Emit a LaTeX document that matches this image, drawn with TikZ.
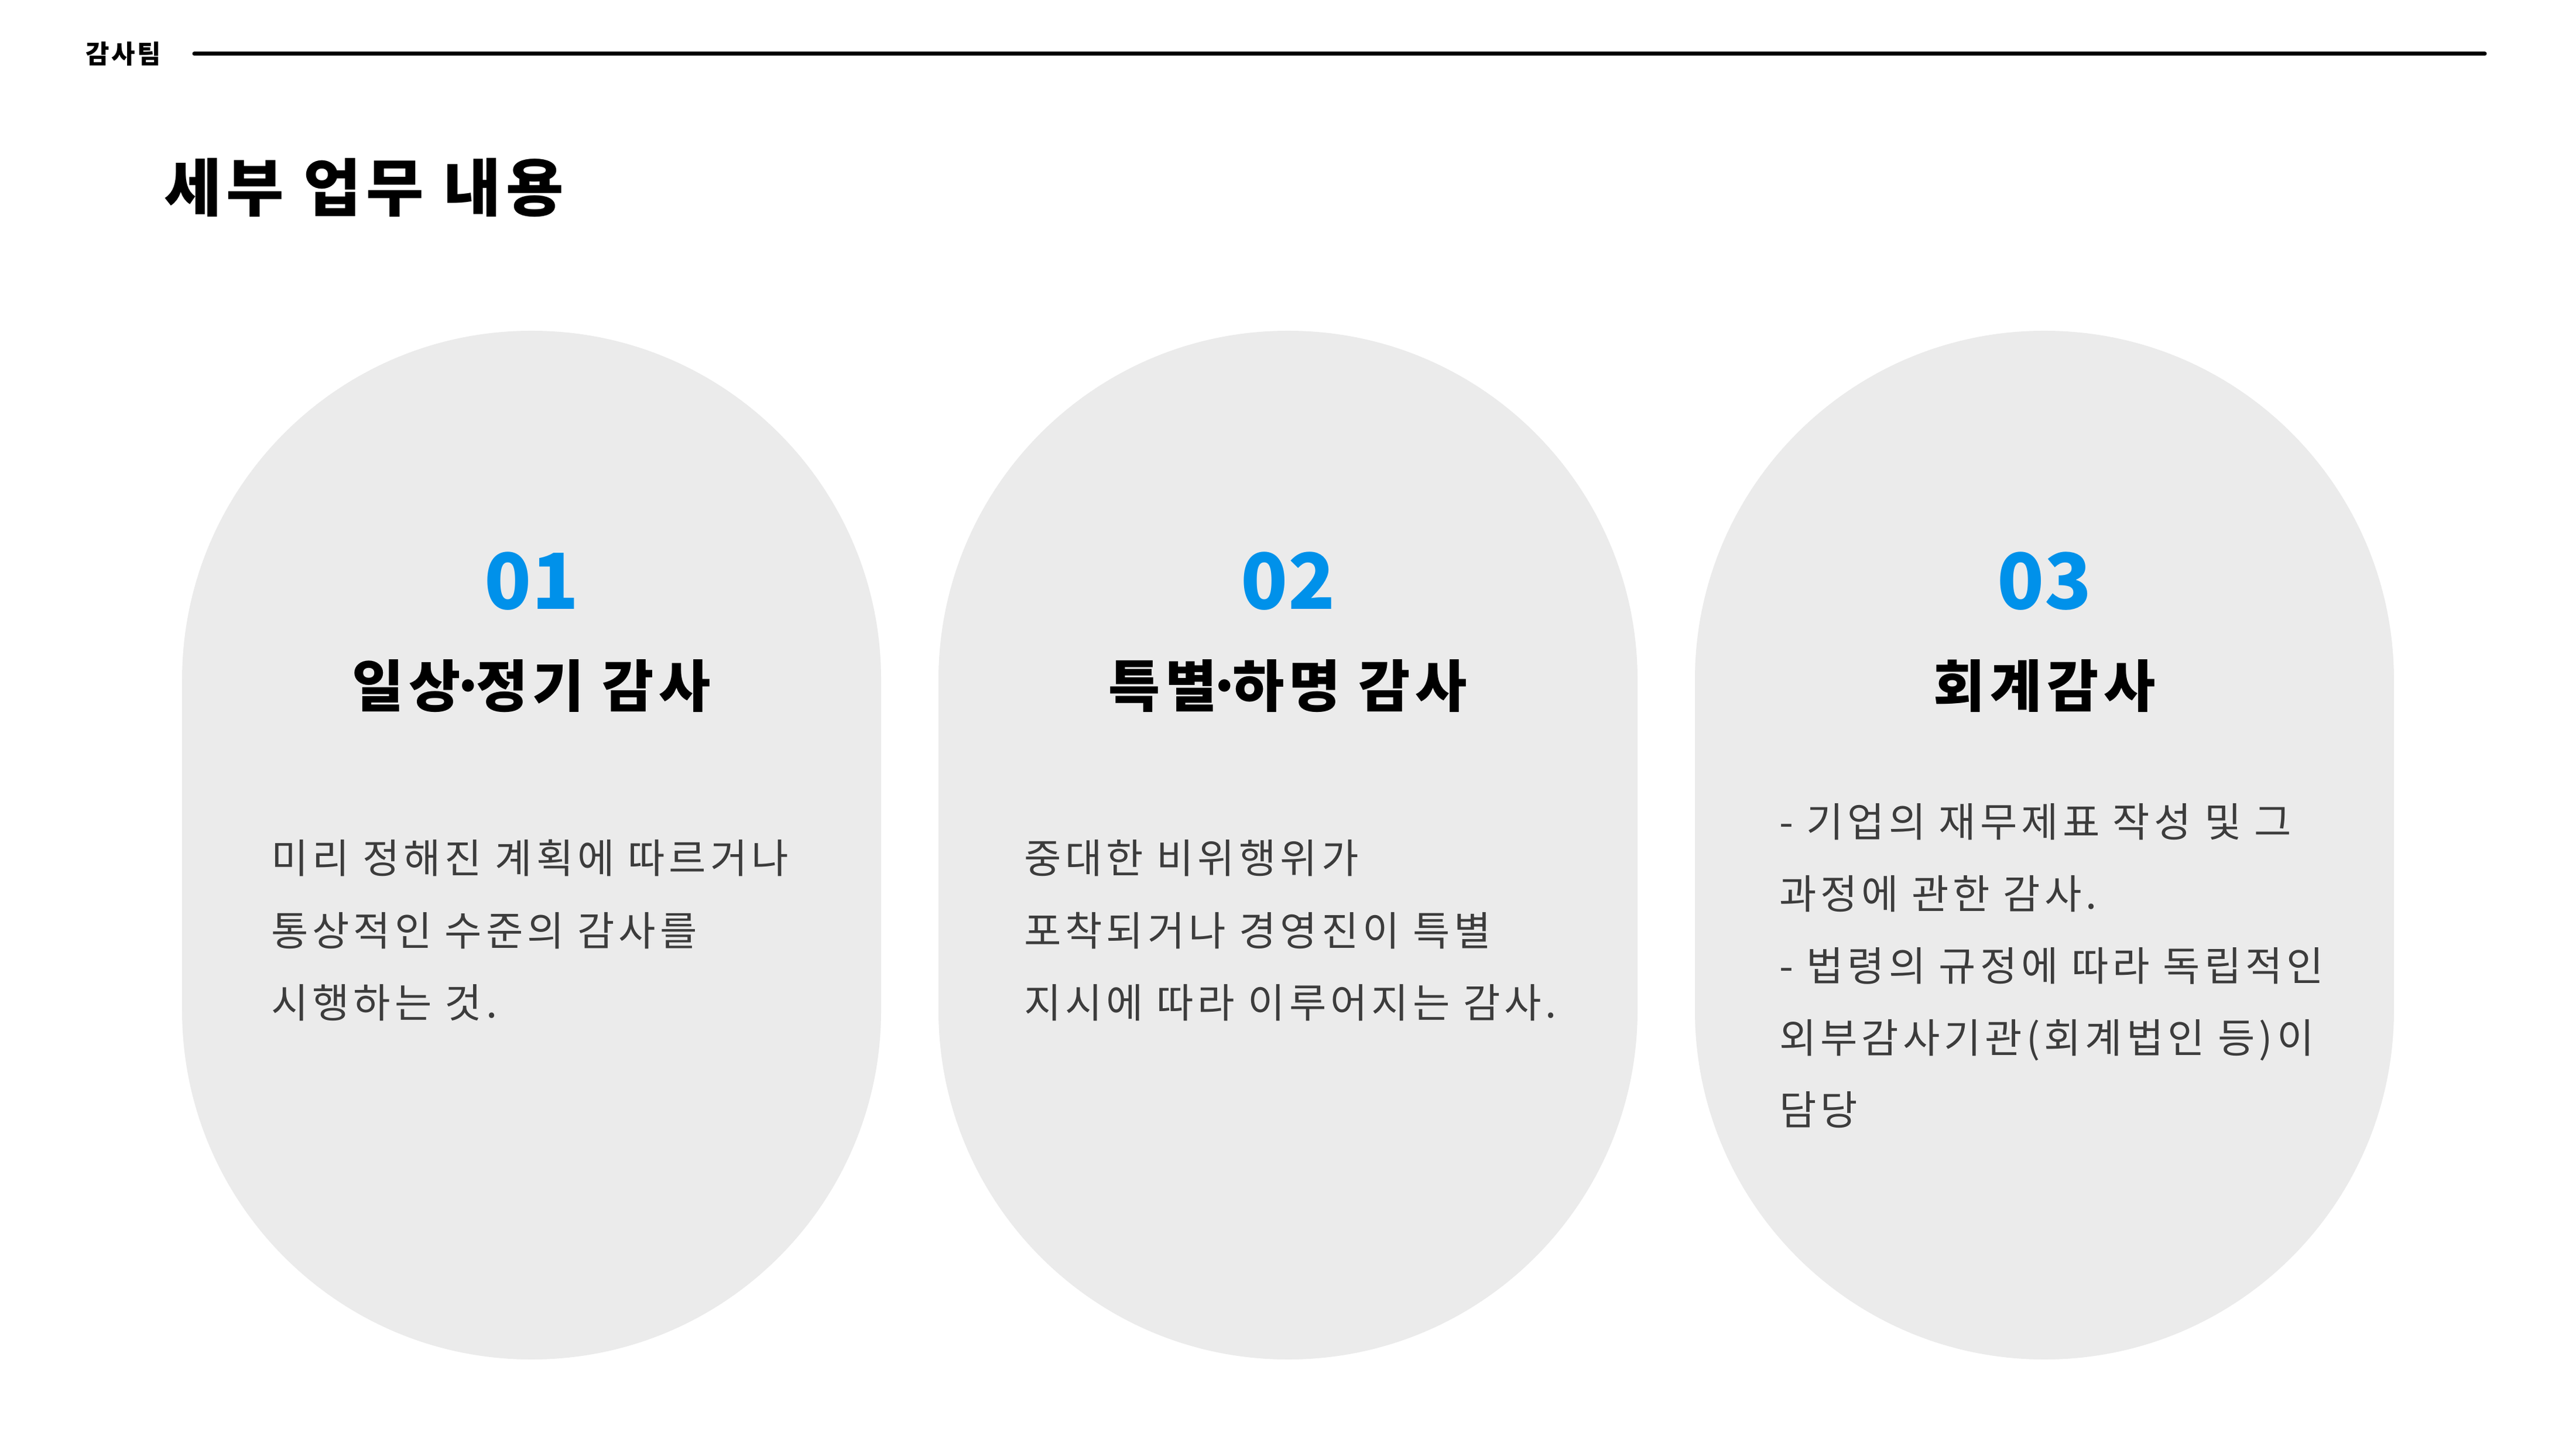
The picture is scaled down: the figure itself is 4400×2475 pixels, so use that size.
\documentclass[tikz,border=0pt]{standalone}
\usepackage{fontspec}
\setmainfont{Noto Sans CJK KR}
\definecolor{pillgray}{HTML}{EBEBEB}
\definecolor{numblue}{HTML}{0091EA}
\definecolor{bodygray}{HTML}{3C3C3C}
\newcommand{\mdot}{\kern-0.17em·\kern-0.17em}
\tikzset{
  pill/.style={fill=pillgray, draw=none, rounded corners=119.3pt,
    minimum width=238.8pt, minimum height=351.4pt, inner sep=0pt},
  numtxt/.style={anchor=base, inner sep=0pt, text=numblue,
    font=\fontsize{26.4pt}{30pt}\selectfont\bfseries},
  headtxt/.style={anchor=base, inner sep=0pt, text=black,
    font=\fontsize{19.2pt}{23pt}\selectfont\bfseries\addfontfeature{LetterSpace=9}},
  bodytxt/.style={anchor=base west, inner sep=0pt, text=bodygray,
    font=\fontsize{13.8pt}{17pt}\selectfont\addfontfeature{LetterSpace=10}},
}
\begin{document}
\begin{tikzpicture}[x=0.2pt,y=-0.2pt]
\useasboundingbox (0,0) rectangle (4400,2475);
\fill[white] (0,0) rectangle (4400,2475);
% header
\node[anchor=base west, inner sep=0pt, font=\fontsize{8.8pt}{10pt}\selectfont\bfseries\addfontfeature{LetterSpace=8}] (team) at (145,109) {감사팀};
\coordinate (hl1) at (332,92);
\coordinate (hl2) at (4244,92);
\draw[line width=1.4pt, line cap=round] (hl1) -- (hl2);
% title
\node[anchor=base west, inner sep=0pt, font=\fontsize{21.4pt}{25pt}\selectfont\bfseries\addfontfeature{LetterSpace=8}] (title) at (279,361) {세부 업무 내용};
% pills
\node[pill] (p1) at (908,1443.5) {};
\node[pill] (p2) at (2200,1443.5) {};
\node[pill] (p3) at (3492,1443.5) {};
% numbers
\node[numtxt] (n1) at (908,1041) {01};
\node[numtxt] (n2) at (2200,1041) {02};
\node[numtxt] (n3) at (3492,1041) {03};
% headings
\node[headtxt] (h1) at (908,1207) {일상\mdot 정기 감사};
\node[headtxt] (h2) at (2200,1207) {특별\mdot 하명 감사};
\node[headtxt] (h3) at (3492,1207) {회계감사};
% body 1
\node[bodytxt] (a1) at (462,1491) {미리 정해진 계획에 따르거나};
\node[bodytxt] (a2) at (462,1615) {통상적인 수준의 감사를};
\node[bodytxt] (a3) at (462,1738) {시행하는 것.};
% body 2
\node[bodytxt] (b1) at (1748,1491) {중대한 비위행위가};
\node[bodytxt] (b2) at (1748,1615) {포착되거나 경영진이 특별};
\node[bodytxt] (b3) at (1748,1738) {지시에 따라 이루어지는 감사.};
% body 3
\node[bodytxt] (c1) at (3038,1429) {- 기업의 재무제표 작성 및 그};
\node[bodytxt] (c2) at (3038,1552) {과정에 관한 감사.};
\node[bodytxt] (c3) at (3038,1675) {- 법령의 규정에 따라 독립적인};
\node[bodytxt] (c4) at (3038,1798) {외부감사기관(회계법인 등)이};
\node[bodytxt] (c5) at (3038,1921) {담당};
\end{tikzpicture}
\end{document}
